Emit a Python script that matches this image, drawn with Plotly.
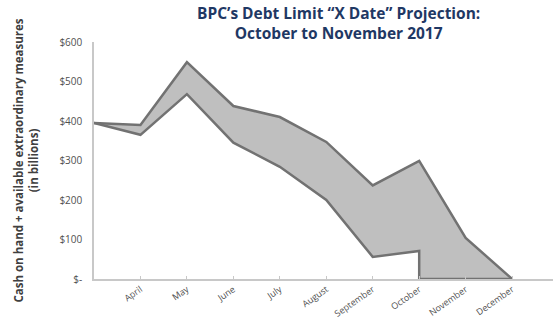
import plotly.graph_objects as go

months = ["March", "April", "May", "June", "July", "August",
          "September", "October", "November", "December"]
upper = [395, 390, 549, 438, 410, 347, 237, 299, 104, 0]
lower_months = ["March", "April", "May", "June", "July", "August",
                "September", "October", "October", "November", "December"]
lower = [395, 365, 468, 345, 284, 200, 56, 71, 0, 0, 0]
y_ticks = [0, 100, 200, 300, 400, 500, 600]
y_labels = ["$-", "$100", "$200", "$300", "$400", "$500", "$600"]

idx = {m: i for i, m in enumerate(months)}
x_up = [idx[m] for m in months]
x_lo = [idx[m] for m in lower_months]

line_col = "#727272"
fill_col = "#bfbfbf"

fig = go.Figure()
fig.add_trace(go.Scatter(x=x_lo, y=lower, mode="lines",
                         line=dict(color=line_col, width=2.5),
                         hoverinfo="skip", showlegend=False))
fig.add_trace(go.Scatter(x=x_up, y=upper, mode="lines", fill="tonexty",
                         fillcolor=fill_col,
                         line=dict(color=line_col, width=2.5),
                         hoverinfo="skip", showlegend=False))

fig.add_annotation(
    text="<b>BPC\u2019s Debt Limit \u201cX Date\u201d Projection:<br>October to November 2017</b>",
    xref="paper", yref="paper", x=0.532, y=1, xanchor="center", yanchor="bottom",
    yshift=-4, showarrow=False, align="center",
    font=dict(size=15.5, color="#1f3864", family="Open Sans"),
)

fig.update_layout(
    width=553, height=322,
    margin=dict(l=94, r=0, t=42, b=43),
    paper_bgcolor="white", plot_bgcolor="white",
    font=dict(family="Open Sans", color="#404040"),
    xaxis=dict(
        range=[0, 9.88],
        tickvals=x_up[1:], ticktext=months[1:],
        tickangle=-35, tickfont=dict(size=9, color="#505050"),
        ticks="inside", ticklen=3, tickcolor="#c8c8c8",
        showline=True, linecolor="#c8c8c8", linewidth=1.5,
        showgrid=False, zeroline=False,
    ),
    yaxis=dict(
        range=[0, 600],
        tickvals=y_ticks, ticktext=y_labels,
        tickfont=dict(size=10, color="#505050"),
        ticks="", ticklabelstandoff=8,
        showline=True, linecolor="#c8c8c8", linewidth=1.5,
        showgrid=False, zeroline=False,
        title=dict(text="<b>Cash on hand + available extraordinary measures<br>(in billions)</b>",
                   font=dict(size=11.5, color="#404040"), standoff=18),
    ),
)

fig.write_html("out.html")
